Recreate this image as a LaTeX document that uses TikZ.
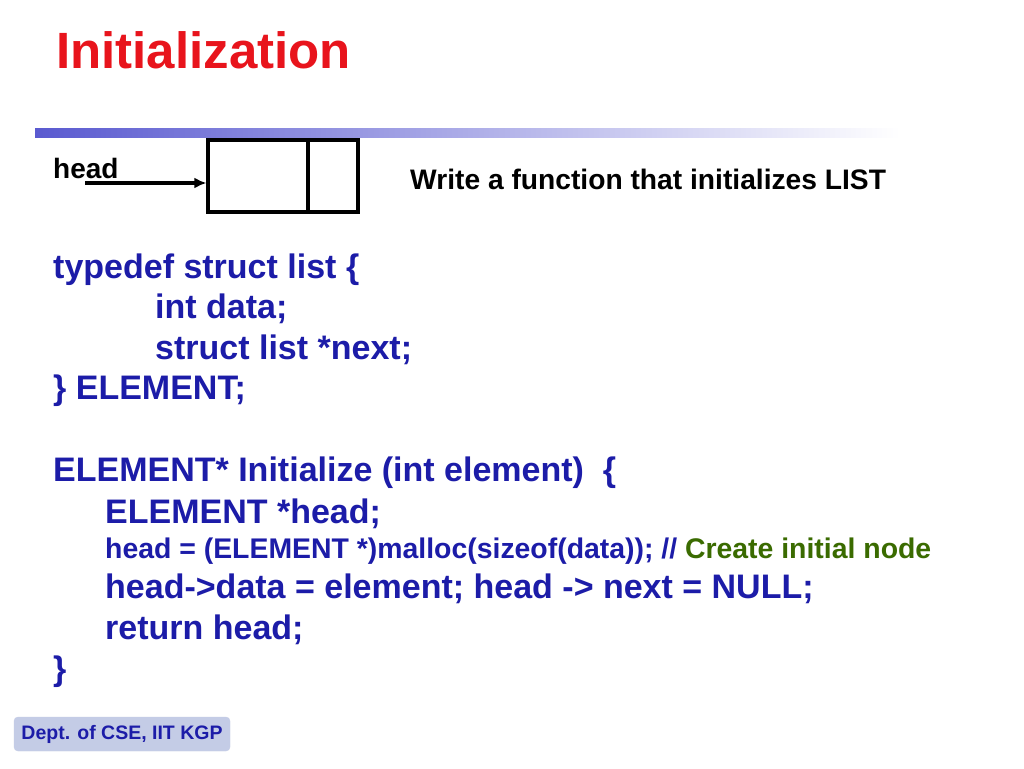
\documentclass[tikz,border=0pt]{standalone}
\usepackage{fontspec}
\setmainfont{Liberation Sans}
\usetikzlibrary{arrows.meta}
\definecolor{cblue}{HTML}{1C1CA8}
\definecolor{cred}{HTML}{E8141C}
\definecolor{cgreen}{HTML}{3A6B00}
\definecolor{bar}{HTML}{5A5AD0}
\definecolor{foot}{HTML}{C4CCE6}
\begin{document}
\begin{tikzpicture}[x=1pt,y=-1pt,
  code/.style={anchor=base west,inner sep=0,font=\fontsize{34}{34}\bfseries,text=cblue},
  small/.style={anchor=base west,inner sep=0,font=\fontsize{28.4}{28}\bfseries,text=cblue}]
\useasboundingbox (0,0) rectangle (1024,768);
\fill[white] (0,0) rectangle (1024,768);
\node[anchor=base west,inner sep=0,font=\fontsize{51}{51}\bfseries,text=cred] (title) at (56,68) {Initialization};
\shade[left color=bar,right color=white] (35,128) rectangle (900,137);
\node[anchor=base west,inner sep=0,font=\fontsize{28}{28}\bfseries] (head) at (53,178) {head};
\node[draw,line width=3.2pt,minimum width=150,minimum height=72,inner sep=0] (box) at (283,176) {};
\draw[line width=3.2pt] (308,140) -- (308,212);
\coordinate (a0) at (85,183);
\draw[line width=3.2pt,-{Latex[length=12pt,width=11pt]}] (a0) -- (box.west|-a0);
\node[anchor=base west,inner sep=0,font=\fontsize{28.2}{28}\bfseries] (q) at (410,189) {Write a function that initializes LIST};
\node[code] (l1) at (53,278) {typedef struct list \{};
\node[code] (l2) at (155,318) {int data;};
\node[code] (l3) at (155,359) {struct list *next;};
\node[code] (l4) at (53,399) {\} ELEMENT;};
\node[code] (l5) at (53,481) {ELEMENT* Initialize (int element)~~\{};
\node[code] (l6) at (105,523) {ELEMENT *head;};
\node[small] (l7) at (105,558) {head = (ELEMENT *)malloc(sizeof(data)); // \textcolor{cgreen}{Create initial node}};
\node[code] (l8) at (105,598) {head->data = element; head -> next = NULL;};
\node[code] (l9) at (105,639) {return head;};
\node[code] (l10) at (53,680) {\}};
\node[draw=foot,fill=foot,rounded corners=4,minimum width=216,minimum height=34,inner sep=0,font=\fontsize{19.5}{20}\bfseries,text=cblue] (foot) at (122,734) {Dept. of CSE, IIT KGP};
\end{tikzpicture}
\end{document}
